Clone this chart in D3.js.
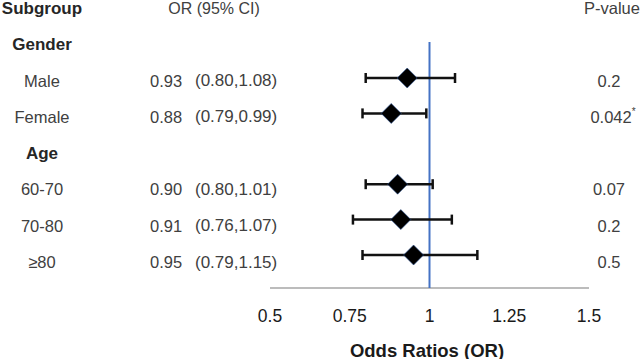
<!DOCTYPE html>
<html>
<head>
<meta charset="utf-8">
<script src="https://cdn.jsdelivr.net/npm/d3@7"></script>
<style>
  html, body { margin: 0; padding: 0; background: #fff; }
  svg { display: block; }
</style>
</head>
<body>
<svg id="viz"></svg>
<script>
// ---------------------------
// Data
// ---------------------------

const rowLabels = ["Gender", "Male", "Female", "Age", "60-70", "70-80", "≥80"];
const groupRows = ["Gender", "Age"];
const subgroups = ["Male", "Female", "60-70", "70-80", "≥80"];
const orValues = [0.93, 0.88, 0.90, 0.91, 0.95];
const ciLower = [0.80, 0.79, 0.80, 0.76, 0.79];
const ciUpper = [1.08, 0.99, 1.01, 1.07, 1.15];
const pValues = ["0.2", "0.042", "0.07", "0.2", "0.5"];
const pStars = ["", "*", "", "", ""];
const xTicks = [0.5, 0.75, 1, 1.25, 1.5];

// ---------------------------
// Create SVG
// ---------------------------

const width = 642;
const height = 359;

const svg = d3.select("#viz")
    .attr("width", width)
    .attr("height", height)
    .attr("viewBox", `0 0 ${width} ${height}`);

const textColor = "#404040";
const font = "'Liberation Sans', Arial, sans-serif";

// x scale for odds ratios
const x = d3.scaleLinear().domain([0.5, 1.5]).range([270, 589]);

// text rows (header row is index 0) and marker rows
const yText = d3.scaleLinear().domain([0, 7]).range([8, 262]);
const yMark = d3.scaleLinear().domain([2, 7]).range([78, 255]);

const rowIndex = label => rowLabels.indexOf(label) + 1;

// ---------------------------
// Headers
// ---------------------------

svg.append("text")
    .attr("x", 42).attr("y", yText(0))
    .attr("text-anchor", "middle")
    .attr("dominant-baseline", "central")
    .style("font", `bold 17px ${font}`)
    .attr("fill", "#262626")
    .text("Subgroup");

svg.append("text")
    .attr("x", 214).attr("y", yText(0))
    .attr("text-anchor", "middle")
    .attr("dominant-baseline", "central")
    .style("font", `16px ${font}`)
    .attr("fill", textColor)
    .text("OR (95% CI)");

svg.append("text")
    .attr("x", 612).attr("y", yText(0))
    .attr("text-anchor", "middle")
    .attr("dominant-baseline", "central")
    .style("font", `16.5px ${font}`)
    .attr("fill", textColor)
    .text("P-value");

// ---------------------------
// Row labels
// ---------------------------

svg.selectAll(".rowlabel")
    .data(rowLabels)
    .join("text")
    .attr("class", "rowlabel")
    .attr("x", 42)
    .attr("y", d => yText(rowIndex(d)))
    .attr("text-anchor", "middle")
    .attr("dominant-baseline", "central")
    .style("font", d => groupRows.includes(d) ? `bold 17px ${font}` : `16.5px ${font}`)
    .attr("fill", d => groupRows.includes(d) ? "#262626" : textColor)
    .text(d => d);

// OR and CI text
const orText = svg.selectAll(".ortext")
    .data(subgroups)
    .join("g")
    .attr("class", "ortext");

orText.append("text")
    .attr("x", 150)
    .attr("y", d => yText(rowIndex(d)))
    .attr("dominant-baseline", "central")
    .style("font", `16.5px ${font}`)
    .attr("fill", textColor)
    .text((d, i) => orValues[i].toFixed(2));

orText.append("text")
    .attr("x", 195)
    .attr("y", d => yText(rowIndex(d)))
    .attr("dominant-baseline", "central")
    .style("font", `17px ${font}`)
    .attr("fill", textColor)
    .text((d, i) => `(${ciLower[i].toFixed(2)},${ciUpper[i].toFixed(2)})`);

// p-values
const pText = svg.selectAll(".ptext")
    .data(subgroups)
    .join("text")
    .attr("class", "ptext")
    .attr("x", (d, i) => pStars[i] ? 613 : 609)
    .attr("y", d => yText(rowIndex(d)))
    .attr("text-anchor", "middle")
    .attr("dominant-baseline", "central")
    .style("font", `16.5px ${font}`)
    .attr("fill", textColor);

pText.append("tspan").text((d, i) => pValues[i]);
pText.append("tspan")
    .attr("dy", -6)
    .style("font-size", "10px")
    .text((d, i) => pStars[i]);

// ---------------------------
// Axis
// ---------------------------

svg.append("line")
    .attr("x1", x(0.5)).attr("x2", x(1.5))
    .attr("y1", 288).attr("y2", 288)
    .attr("stroke", "#a6a6a6")
    .attr("stroke-width", 1.3);

svg.selectAll(".tick")
    .data(xTicks)
    .join("text")
    .attr("class", "tick")
    .attr("x", d => x(d))
    .attr("y", 316)
    .attr("text-anchor", "middle")
    .attr("dominant-baseline", "central")
    .style("font", `17.5px ${font}`)
    .attr("fill", "#1a1a1a")
    .text(d => d);

svg.append("text")
    .attr("x", 427).attr("y", 350)
    .attr("text-anchor", "middle")
    .attr("dominant-baseline", "central")
    .style("font", `bold 18.5px ${font}`)
    .attr("fill", "#1a1a1a")
    .text("Odds Ratios (OR)");

// reference line at OR = 1
svg.append("line")
    .attr("x1", x(1)).attr("x2", x(1))
    .attr("y1", 42).attr("y2", 288)
    .attr("stroke", "#4472c4")
    .attr("stroke-width", 2);

// ---------------------------
// Error bars and diamonds
// ---------------------------

const marks = svg.selectAll(".mark")
    .data(subgroups)
    .join("g")
    .attr("class", "mark")
    .attr("transform", d => `translate(0,${yMark(rowIndex(d))})`);

marks.append("line")
    .attr("x1", (d, i) => x(ciLower[i]))
    .attr("x2", (d, i) => x(ciUpper[i]))
    .attr("stroke", "#111")
    .attr("stroke-width", 2.5);

marks.append("line")
    .attr("x1", (d, i) => x(ciLower[i]))
    .attr("x2", (d, i) => x(ciLower[i]))
    .attr("y1", -5).attr("y2", 5)
    .attr("stroke", "#111")
    .attr("stroke-width", 2.5);

marks.append("line")
    .attr("x1", (d, i) => x(ciUpper[i]))
    .attr("x2", (d, i) => x(ciUpper[i]))
    .attr("y1", -5).attr("y2", 5)
    .attr("stroke", "#111")
    .attr("stroke-width", 2.5);

marks.append("path")
    .attr("transform", (d, i) => `translate(${x(orValues[i])},0)`)
    .attr("d", "M0,-10L10,0L0,10L-10,0Z")
    .attr("fill", "#000")
    .attr("stroke", "#2f5597")
    .attr("stroke-width", 0.6);
</script>
</body>
</html>
